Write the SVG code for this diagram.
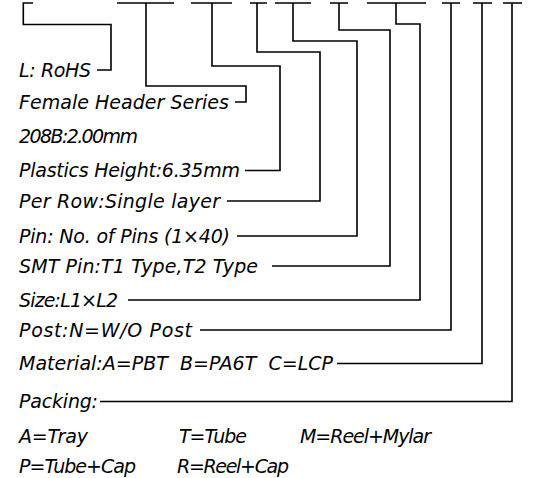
<svg xmlns="http://www.w3.org/2000/svg" width="540" height="478" viewBox="0 0 540 478">
<style>
  .t { font-family: "DejaVu Sans", "Liberation Sans", sans-serif; font-style: oblique; font-size: 19px; fill: #000; }
  .c { fill: none; stroke: #000; stroke-width: 1.6; stroke-linecap: butt; stroke-linejoin: miter; }
</style>
<rect width="540" height="478" fill="#fff"/>
<g id="connectors">
  <path class="c" d="M22.5,3 H33 M23.3,3 V24.5 H111 V70 H97"/>
  <path class="c" d="M117,3 H174 M146,3 V86 H246 V102 H235"/>
  <path class="c" d="M191,3 H232 M212,3 V66 H280 V170.5 H245"/>
  <path class="c" d="M250,3 H267 M257,3 V52 H320 V201 H227"/>
  <path class="c" d="M275,3 H311 M293,3 V41 H357 V236 H237"/>
  <path class="c" d="M330,3 H348 M339,3 V30 H390 V266 H272"/>
  <path class="c" d="M367,3 H426 M396,3 V24 H420 V300 H128"/>
  <path class="c" d="M442,3 H460 M451,3 V330 H200"/>
  <path class="c" d="M473,3 H492 M482,3 V363.5 H337"/>
  <path class="c" d="M503,3 H522 M512,3 V401.5 H100"/>
</g>
<g id="rohs"><text class="t" x="19" y="76.5" textLength="72" lengthAdjust="spacing">L: RoHS</text></g>
<g id="series"><text class="t" x="19" y="108.5" textLength="210" lengthAdjust="spacing">Female Header Series</text></g>
<g id="pitch"><text class="t" x="19" y="142.5" textLength="119" lengthAdjust="spacing">208B:2.00mm</text></g>
<g id="height"><text class="t" x="19" y="177" textLength="221" lengthAdjust="spacing">Plastics Height:6.35mm</text></g>
<g id="row"><text class="t" x="19" y="207.5" textLength="201" lengthAdjust="spacing">Per Row:Single layer</text></g>
<g id="pins"><text class="t" x="19" y="242.5" textLength="211" lengthAdjust="spacing">Pin: No. of Pins (1×40)</text></g>
<g id="smt"><text class="t" x="19" y="272.5" textLength="239" lengthAdjust="spacing">SMT Pin:T1 Type,T2 Type</text></g>
<g id="size"><text class="t" x="19" y="306.5" textLength="99" lengthAdjust="spacing">Size:L1×L2</text></g>
<g id="post"><text class="t" x="19" y="336.5" textLength="173" lengthAdjust="spacing">Post:N=W/O Post</text></g>
<g id="material"><text class="t" x="19" y="370" xml:space="preserve" textLength="314" lengthAdjust="spacing">Material:A=PBT  B=PA6T  C=LCP</text></g>
<g id="packing">
  <text class="t" x="19" y="408" textLength="79" lengthAdjust="spacing">Packing:</text>
  <text class="t" x="19" y="442.5" textLength="69" lengthAdjust="spacing">A=Tray</text>
  <text class="t" x="179" y="442.5" textLength="68" lengthAdjust="spacing">T=Tube</text>
  <text class="t" x="300" y="442.5" textLength="131" lengthAdjust="spacing">M=Reel+Mylar</text>
  <text class="t" x="19" y="472.5" textLength="117" lengthAdjust="spacing">P=Tube+Cap</text>
  <text class="t" x="177" y="472.5" textLength="112" lengthAdjust="spacing">R=Reel+Cap</text>
</g>
</svg>
